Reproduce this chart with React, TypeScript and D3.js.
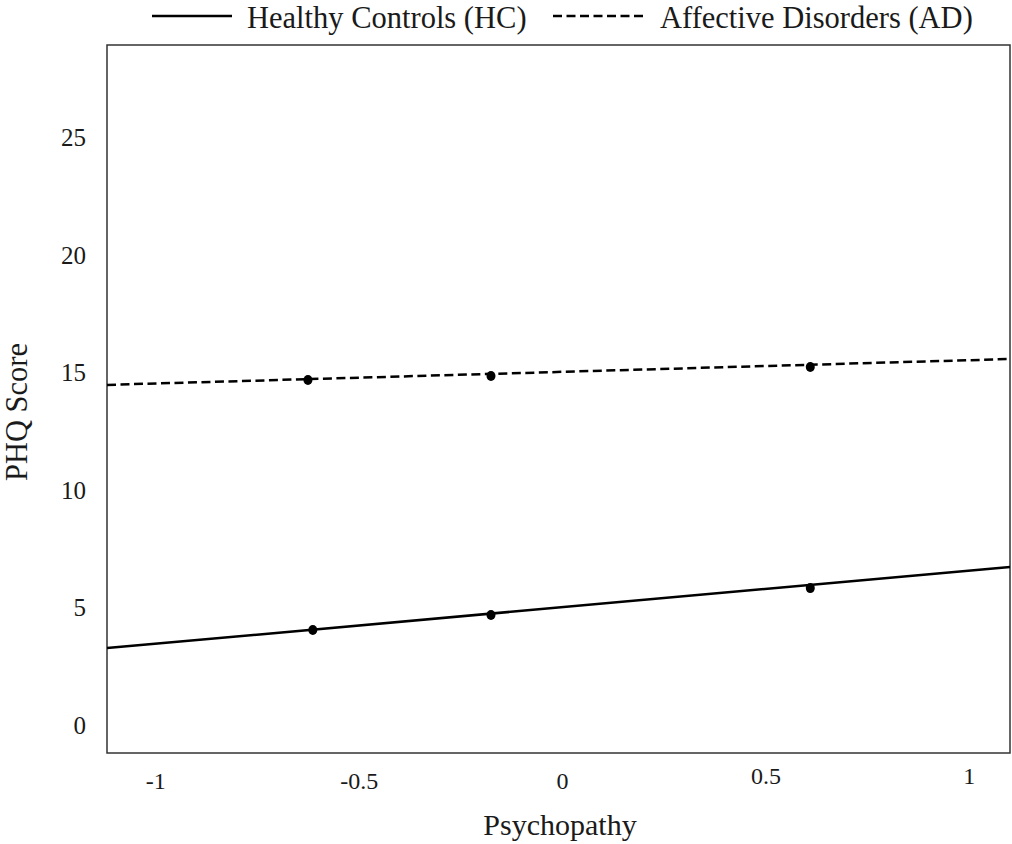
import React from "react";
import * as d3 from "d3";

// x-axis ticks and y-axis ticks
const xTicks = [-1, -0.5, 0, 0.5, 1];
const yTicks = [0, 5, 10, 15, 20, 25];

// regression line endpoints (psychopathy, PHQ score)
const hcLine = [
  { x: -1.12, y: 3.27 },
  { x: 1.1, y: 6.72 },
];
const adLine = [
  { x: -1.12, y: 14.46 },
  { x: 1.1, y: 15.56 },
];

// marked points on each line
const hcPoints = [
  { x: -0.614, y: 4.04 },
  { x: -0.176, y: 4.68 },
  { x: 0.609, y: 5.82 },
];
const adPoints = [
  { x: -0.626, y: 14.67 },
  { x: -0.176, y: 14.84 },
  { x: 0.609, y: 15.22 },
];

const App = () => {
  const width = 1012;
  const height = 844;
  const left = 107;
  const right = 1010;
  const top = 45;
  const bottom = 753;

  const x = d3.scaleLinear().domain([-1.12, 1.1]).range([left, right]);
  const y = d3.scaleLinear().domain([-1.19, 28.91]).range([bottom, top]);

  const line = d3
    .line<{ x: number; y: number }>()
    .x((d) => x(d.x))
    .y((d) => y(d.y));

  const font = "'Liberation Serif', 'Times New Roman', serif";

  return (
    <svg
      width={width}
      height={height}
      style={{ position: "absolute", left: 0, top: 0, background: "#fff" }}
      fontFamily={font}
    >
      {/* legend */}
      <g>
        <line x1={152} x2={232} y1={16} y2={16} stroke="#000" strokeWidth={2.5} />
        <text x={247} y={28} fontSize={30.5} fill="#1a1a1a">
          Healthy Controls (HC)
        </text>
        <line
          x1={553}
          x2={647}
          y1={16}
          y2={16}
          stroke="#000"
          strokeWidth={2.5}
          strokeDasharray="9,4.5"
        />
        <text x={660} y={28} fontSize={30.5} fill="#1a1a1a">
          Affective Disorders (AD)
        </text>
      </g>

      {/* plot frame */}
      <rect
        x={left}
        y={top}
        width={right - left}
        height={bottom - top}
        fill="none"
        stroke="#333"
        strokeWidth={1.5}
      />

      {/* y tick labels */}
      {yTicks.map((t) => (
        <text
          key={t}
          x={86}
          y={y(t) + 9}
          textAnchor="end"
          fontSize={25}
          fill="#1a1a1a"
        >
          {t}
        </text>
      ))}

      {/* x tick labels */}
      {xTicks.map((t) => (
        <text
          key={t}
          x={x(t)}
          y={t > 0 ? 784 : 789}
          textAnchor="middle"
          fontSize={24}
          fill="#1a1a1a"
        >
          {t}
        </text>
      ))}

      {/* axis titles */}
      <text
        transform={`translate(27,412) rotate(-90)`}
        textAnchor="middle"
        fontSize={30.5}
        fill="#1a1a1a"
      >
        PHQ Score
      </text>
      <text x={560} y={835} textAnchor="middle" fontSize={30} fill="#1a1a1a">
        Psychopathy
      </text>

      {/* lines */}
      <path d={line(hcLine) || ""} fill="none" stroke="#000" strokeWidth={2.5} />
      <path
        d={line(adLine) || ""}
        fill="none"
        stroke="#000"
        strokeWidth={2.5}
        strokeDasharray="9,4.5"
      />

      {/* points */}
      {hcPoints.concat(adPoints).map((d, i) => (
        <ellipse key={i} cx={x(d.x)} cy={y(d.y)} rx={4.5} ry={5} fill="#000" />
      ))}
    </svg>
  );
};

export default App;
